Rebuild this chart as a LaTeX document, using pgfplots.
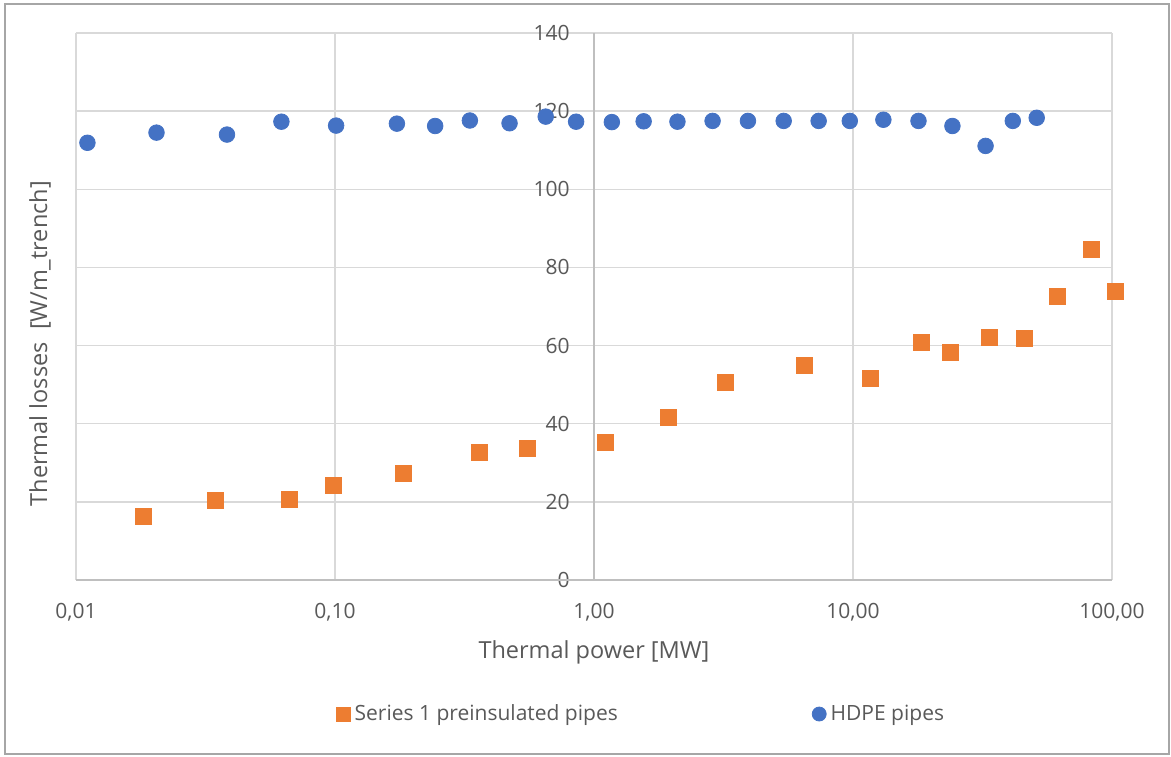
\documentclass[border=0pt]{standalone}
\usepackage{fontspec}
\setmainfont{Open Sans}
\usepackage{pgfplots}
\pgfplotsset{compat=1.18}

\definecolor{serorange}{HTML}{ED7D31}
\definecolor{serblue}{HTML}{4472C4}
\definecolor{gridgray}{HTML}{D9D9D9}
\definecolor{axisgray}{HTML}{BFBFBF}
\definecolor{txtgray}{HTML}{595959}
\definecolor{framegray}{HTML}{A6A6A6}

\newcommand{\ticksize}{\fontsize{10.5}{12}\selectfont}
\newcommand{\titlesize}{\fontsize{11.75}{14}\selectfont}

\begin{document}
\begin{tikzpicture}
\useasboundingbox (0,0) rectangle (585.5pt,378pt);
\draw[framegray, line width=0.6pt] (2.5pt,1pt) rectangle (584.5pt,376pt);
\begin{axis}[
  at={(38pt,88pt)}, anchor=south west,
  scale only axis,
  width=518pt, height=273.5pt,
  xmode=log,
  xmin=0.01, xmax=100,
  ymin=0, ymax=140,
  clip=false,
  axis line style={draw=none},
  major tick length=0pt,
  minor tick length=0pt,
  grid=major,
  major grid style={draw=gridgray, line width=0.75pt},
  xtick={0.01,0.1,1,10,100},
  xticklabels={{0,01},{0,10},{1,00},{10,00},{100,00}},
  ytick={0,20,...,140},
  /pgf/number format/assume math mode=true,
  xticklabel style={font=\ticksize, text=txtgray, anchor=center, inner sep=0pt, yshift=-16pt},
  yticklabel style={font=\ticksize, text=txtgray, anchor=east, inner sep=0pt, xshift=247pt},
  xlabel={Thermal power [MW]},
  ylabel={Thermal losses~ [W/m\_trench]},
  every axis x label/.style={at={(axis description cs:0.5,0)}, yshift=-36pt, anchor=center, font=\titlesize, text=txtgray},
  every axis y label/.style={at={(axis description cs:0,0.432)}, xshift=-18pt, rotate=90, anchor=center, font=\titlesize, text=txtgray},
  legend columns=2,
  legend style={at={(axis description cs:0.5463,-0.245)}, anchor=center, draw=none, fill=none,
    font=\ticksize, text=txtgray,
    /tikz/every even column/.append style={column sep=95pt}},
]
% axis lines drawn over the grid
\draw[axisgray, line width=0.75pt] (axis cs:0.01,0) -- (axis cs:100,0);
\draw[axisgray, line width=0.75pt] (axis cs:1,0) -- (axis cs:1,140);

\addplot[only marks, mark=square*, mark size=4pt, mark options={draw=serorange, fill=serorange},
  legend image code/.code={\fill[serorange] (0pt,-3.5pt) rectangle (7pt,3.5pt);}]
coordinates {
(0.0182,16.3) (0.0344,20.3) (0.0666,20.7) (0.0988,24.2) (0.1835,27.2)
(0.3626,32.7) (0.5517,33.7) (1.107,35.1) (1.937,41.5) (3.214,50.5)
(6.48,55.0) (11.71,51.7) (18.44,60.7) (23.75,58.3) (33.7,62.1)
(46.0,61.9) (61.3,72.5) (83.5,84.7) (102.7,73.8)
};
\addlegendentry{Series 1 preinsulated pipes}

\addplot[only marks, mark=*, mark size=3.9pt, mark options={draw=serblue, fill=serblue},
  legend image code/.code={\fill[serblue] (3.5pt,0pt) circle (3.5pt);}]
coordinates {
(0.01107,111.9) (0.02046,114.5) (0.03828,114.0) (0.0621,117.3) (0.1010,116.3)
(0.1734,116.8) (0.2436,116.2) (0.3317,117.6) (0.472,116.9) (0.651,118.6)
(0.853,117.3) (1.172,117.2) (1.555,117.4) (2.10,117.3) (2.87,117.5)
(3.93,117.5) (5.40,117.5) (7.37,117.5) (9.72,117.5) (13.1,117.8)
(17.9,117.5) (24.2,116.2) (32.5,111.1) (41.4,117.5) (51.2,118.3)
};
\addlegendentry{HDPE pipes}
\end{axis}
\end{tikzpicture}
\end{document}
